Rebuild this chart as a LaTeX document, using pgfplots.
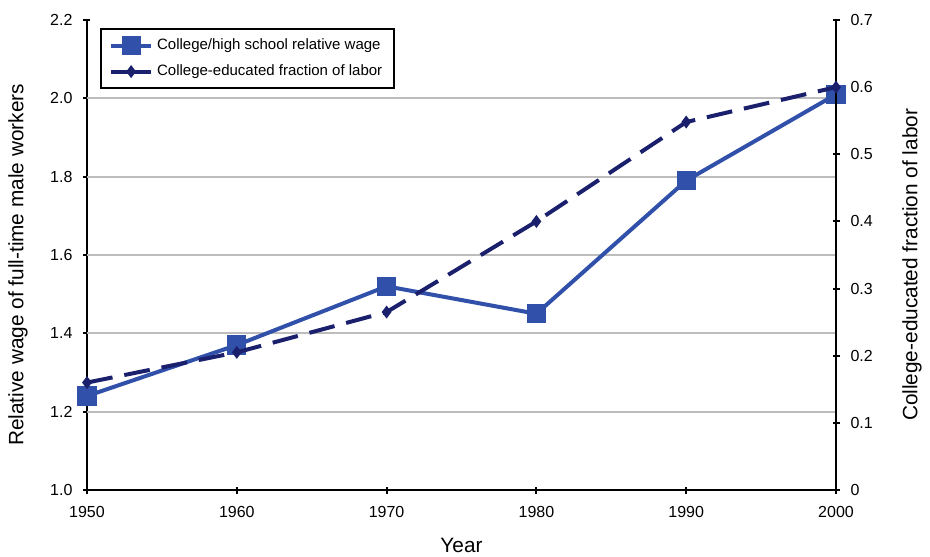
\documentclass[border=0pt]{standalone}
\usepackage{fontspec}
\setmainfont{Liberation Sans}
\usepackage{pgfplots}
\pgfplotsset{compat=1.18}

\definecolor{wageblue}{HTML}{3050AA}
\definecolor{fracnavy}{HTML}{1B206C}
\definecolor{gridgray}{HTML}{BDBDBD}

\begin{document}
\begin{tikzpicture}
\pgfplotsset{
  every axis/.append style={
    scale only axis, width=374.5pt, height=235pt,
    xmin=1950, xmax=2000,
    tick label style={font=\fontsize{8}{9}\selectfont},
    /pgf/number format/assume math mode=true,
    major tick length=3.5pt,
    tick style={black, line width=1pt},
    tick align=outside,
  },
  wage/.style={wageblue, line width=2pt, mark=square*, mark size=3.8pt},
  frac/.style={fracnavy, line width=2pt, dash pattern=on 13pt off 6pt,
    mark=diamond*, mark size=1.6pt, mark options={solid}},
}
\begin{axis}[
    axis x line=bottom, axis y line=left,
    axis line style={-, line width=1.1pt},
    xtick={1950,1960,...,2000},
    xticklabel style={/pgf/number format/1000 sep={}, yshift=-3pt},
    ymin=1.0, ymax=2.2,
    ytick={1.0,1.2,...,2.21},
    yticklabel style={xshift=-2pt, /pgf/number format/.cd, fixed, fixed zerofill, precision=1},
    extra y ticks={1.2,1.4,1.6,1.8,2.0},
    extra y tick labels={},
    extra y tick style={ymajorgrids, major tick length=0pt,
      grid style={gridgray, line width=1pt}},
    xlabel={Year}, ylabel={Relative wage of full-time male workers},
    xlabel style={font=\fontsize{10.4}{11}\selectfont,
      at={(axis description cs:0.5,-0.117)}, anchor=center},
    ylabel style={font=\fontsize{10.4}{11}\selectfont,
      at={(axis description cs:-0.092,0.479)}, anchor=center},
  ]
\addplot[wage]
  coordinates {(1950,1.24)(1960,1.37)(1970,1.52)(1980,1.45)(1990,1.79)(2000,2.01)};
\end{axis}
\begin{axis}[
    axis x line=none, axis y line=right,
    axis line style={-, line width=1.1pt},
    ymin=0, ymax=0.7,
    ytick={0,0.1,...,0.71},
    yticklabel style={xshift=2pt},
    ylabel={College-educated fraction of labor},
    ylabel style={font=\fontsize{10.4}{11}\selectfont,
      at={(axis description cs:1.1015,0.479)}, anchor=center},
    legend style={at={(0.0174,0.983)}, anchor=north west, draw=black,
      line width=1.1pt, font=\fontsize{7.5}{8}\selectfont,
      nodes={text height=5.2pt, text depth=1.5pt},
      row sep=2.2pt, inner xsep=4pt, inner ysep=3pt},
    legend cell align=left,
    legend image code/.code={
      \draw[#1, mark=none, solid] (0pt,0pt) -- (20pt,0pt);
      \draw[#1, solid] plot coordinates {(10pt,0pt)};
    },
  ]
\addlegendimage{wage}
\addlegendentry{College/high school relative wage\hspace{7pt}}
\addplot[frac]
  coordinates {(1950,0.16)(1960,0.205)(1970,0.265)(1980,0.40)(1990,0.548)(2000,0.60)};
\addlegendentry{College-educated fraction of labor}
\end{axis}
\pgfresetboundingbox
\path ([xshift=-43.5pt,yshift=-33pt]current axis.south west)
  rectangle ([xshift=47pt,yshift=10pt]current axis.north east);
\end{tikzpicture}
\end{document}
